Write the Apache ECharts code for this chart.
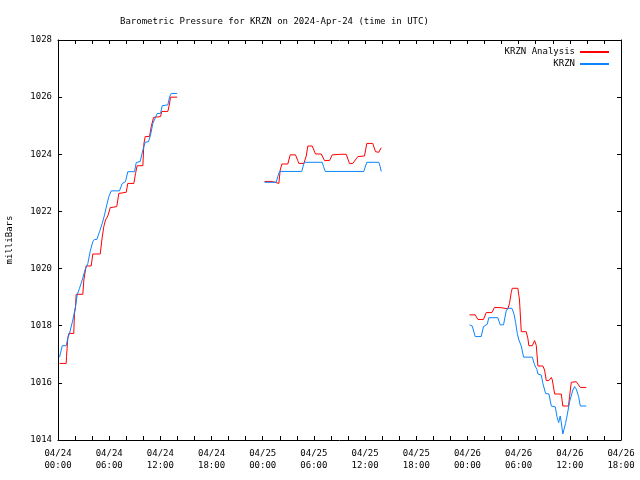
<!DOCTYPE html>
<html>
<head>
<meta charset="utf-8">
<script src="https://cdn.jsdelivr.net/npm/echarts@6/dist/echarts.min.js"></script>
<style>html,body{margin:0;padding:0;background:#fff}#c{width:640px;height:480px}</style>
</head>
<body>
<div id="c"></div>
<script>
// hours since 2024-04-24 00:00 UTC
var xTickLabels = ['04/24\n00:00','04/24\n06:00','04/24\n12:00','04/24\n18:00','04/25\n00:00','04/25\n06:00','04/25\n12:00','04/25\n18:00','04/26\n00:00','04/26\n06:00','04/26\n12:00','04/26\n18:00'];
var yTicks = [1014,1016,1018,1020,1022,1024,1026,1028];

var analysisHours = [0.18,0.96,1.0,1.15,1.27,1.85,1.93,2.05,2.13,2.91,3.03,3.22,3.3,3.89,4.08,4.95,5.14,5.37,5.57,5.84,6.12,6.89,7.13,8.0,8.18,8.89,9.09,9.28,9.95,10.06,10.22,10.73,10.93,11.2,12.02,12.17,12.88,13.07,13.19,13.97,
  19.0,
  24.21,25.11,25.18,25.89,26.05,26.24,26.94,27.22,27.84,28.11,28.23,28.82,29.1,29.29,29.8,30.19,30.86,31.24,31.83,32.15,33.08,33.79,34.17,34.56,35.15,35.93,36.2,36.9,37.22,37.61,37.89,
  43.0,
  48.24,48.91,49.22,49.88,50.2,50.86,51.17,51.96,52.15,52.73,52.93,53.13,53.25,53.91,54.1,54.31,54.89,55.08,55.2,55.6,55.87,56.07,56.26,56.84,57.04,57.24,57.55,57.83,57.95,58.22,59.0,59.18,59.85,59.97,60.17,60.76,60.95,61.23,61.93];
var analysisPressure = [1016.68,1016.68,1016.92,1017.56,1017.73,1017.73,1018.43,1018.63,1019.1,1019.1,1019.6,1019.95,1020.09,1020.09,1020.51,1020.51,1021.0,1021.47,1021.7,1021.84,1022.13,1022.17,1022.63,1022.67,1022.98,1022.98,1023.33,1023.6,1023.6,1024.35,1024.62,1024.62,1024.97,1025.29,1025.32,1025.5,1025.5,1025.76,1026.0,1026.0,
  null,
  1023.05,1023.05,1022.98,1022.98,1023.45,1023.66,1023.66,1023.98,1023.98,1023.78,1023.68,1023.68,1023.94,1024.29,1024.29,1024.01,1024.01,1023.78,1023.78,1023.98,1024.0,1024.0,1023.68,1023.68,1023.92,1023.94,1024.38,1024.38,1024.09,1024.07,1024.23,
  null,
  1018.38,1018.38,1018.22,1018.22,1018.46,1018.46,1018.64,1018.63,1018.59,1018.59,1018.78,1019.16,1019.31,1019.31,1018.9,1017.79,1017.79,1017.56,1017.3,1017.3,1017.48,1017.31,1016.59,1016.59,1016.45,1016.08,1016.08,1016.19,1016.1,1015.61,1015.61,1015.19,1015.19,1015.52,1016.02,1016.04,1016.02,1015.84,1015.84];

var stationHours = [0.18,0.5,0.96,1.15,1.35,1.74,2.05,2.25,2.52,2.84,3.22,3.5,3.77,4.08,4.28,4.55,4.87,5.18,5.45,5.72,5.96,6.24,7.21,7.53,7.91,8.18,8.97,9.17,9.64,9.95,10.22,10.61,10.85,11.12,11.43,11.63,12.02,12.22,12.88,13.07,13.27,13.97,
  19.0,
  24.21,25.58,25.77,25.97,28.58,28.78,28.9,30.97,31.13,31.33,35.85,36.05,36.2,37.61,37.77,37.89,
  43.0,
  48.24,48.56,48.91,49.61,49.88,50.0,50.32,50.5,51.56,51.84,52.23,52.54,52.73,53.2,53.44,53.64,53.84,54.03,54.31,54.58,55.6,55.87,56.14,56.26,56.66,56.84,57.16,57.55,57.83,58.3,58.49,58.69,58.87,58.99,59.18,59.3,59.5,59.7,59.97,60.36,60.56,60.76,61.03,61.23,61.93];
var stationPressure = [1016.9,1017.3,1017.3,1017.56,1017.73,1018.2,1018.67,1019.08,1019.31,1019.6,1020.0,1020.18,1020.6,1020.94,1021.02,1021.02,1021.29,1021.58,1021.87,1022.23,1022.52,1022.72,1022.72,1022.98,1023.04,1023.39,1023.39,1023.71,1023.75,1024.15,1024.42,1024.44,1024.68,1025.08,1025.29,1025.43,1025.43,1025.7,1025.73,1026.0,1026.13,1026.13,
  null,
  1023.02,1023.02,1023.22,1023.4,1023.4,1023.63,1023.72,1023.72,1023.57,1023.4,1023.4,1023.59,1023.72,1023.72,1023.57,1023.4,
  null,
  1018.03,1017.99,1017.62,1017.62,1017.97,1018.03,1018.05,1018.28,1018.28,1018.03,1018.03,1018.52,1018.61,1018.61,1018.43,1018.12,1017.73,1017.5,1017.29,1016.9,1016.9,1016.63,1016.47,1016.31,1016.27,1015.98,1015.63,1015.61,1015.19,1015.16,1014.82,1014.61,1014.84,1014.64,1014.21,1014.35,1014.58,1014.88,1015.34,1015.75,1015.87,1015.78,1015.52,1015.19,1015.19];

function pairs(xs, ys) { return xs.map(function (x, i) { return [x, ys[i]]; }); }

var RED = '#ff0000', BLUE = '#0a84ff';
var FONT = 'DejaVu Sans Mono';
var chart = echarts.init(document.getElementById('c'), null, {renderer: 'canvas'});
var xBase = {
  type: 'value', min: 0, max: 66, interval: 2,
  axisLine: {show: true, onZero: false, lineStyle: {color: '#000', width: 1}},
  axisTick: {show: true, inside: true, length: 4, lineStyle: {color: '#000'}},
  splitLine: {show: false}
};
var yBase = {
  type: 'value', min: 1014, max: 1028, interval: 2,
  axisLine: {show: true, onZero: false, lineStyle: {color: '#000', width: 1}},
  axisTick: {show: true, inside: true, length: 4, lineStyle: {color: '#000'}},
  splitLine: {show: false}
};
chart.setOption({
  animation: false,
  backgroundColor: '#fff',
  grid: {left: 58, right: 19, top: 40, bottom: 40, containLabel: false, outerBoundsMode: 'none'},
  graphic: [{
    type: 'text', left: 277 - 157, top: 17,
    style: {text: 'Barometric Pressure for KRZN on 2024-Apr-24 (time in UTC)', font: '9px "' + FONT + '"', fill: '#000'}
  }],
  legend: {
    orient: 'vertical', right: 26, top: 41, align: 'right',
    itemWidth: 29, itemHeight: 2, itemGap: 0,
    textStyle: {fontFamily: FONT, fontSize: 9, color: '#000', lineHeight: 12},
    data: [
      {name: 'KRZN Analysis', icon: 'rect', itemStyle: {color: RED, borderWidth: 0, opacity: 1}},
      {name: 'KRZN', icon: 'rect', itemStyle: {color: BLUE, borderWidth: 0, opacity: 1}}
    ]
  },
  xAxis: [
    Object.assign({}, xBase, {
      position: 'bottom',
      axisLabel: {
        show: true, margin: 8, fontFamily: FONT, fontSize: 9, color: '#000', lineHeight: 12,
        formatter: function (v) { return (v % 6 === 0) ? xTickLabels[v / 6] : ''; }
      }
    }),
    Object.assign({}, xBase, {position: 'top', axisLabel: {show: false}})
  ],
  yAxis: [
    Object.assign({}, yBase, {
      position: 'left',
      name: 'milliBars', nameLocation: 'middle', nameGap: 44, nameRotate: 90,
      nameTextStyle: {fontFamily: FONT, fontSize: 9, color: '#000'},
      axisLabel: {show: true, margin: 6, fontFamily: FONT, fontSize: 9, color: '#000',
        formatter: function (v) { return yTicks.indexOf(v) >= 0 ? String(v) : ''; }}
    }),
    Object.assign({}, yBase, {position: 'right', axisLabel: {show: false}})
  ],
  series: [
    {name: 'KRZN Analysis', type: 'line', data: pairs(analysisHours, analysisPressure),
     showSymbol: false, symbol: 'none', connectNulls: false,
     lineStyle: {color: RED, width: 1}, itemStyle: {color: RED}},
    {name: 'KRZN', type: 'line', data: pairs(stationHours, stationPressure),
     showSymbol: false, symbol: 'none', connectNulls: false,
     lineStyle: {color: BLUE, width: 1}, itemStyle: {color: BLUE}}
  ]
});
</script>
</body>
</html>
